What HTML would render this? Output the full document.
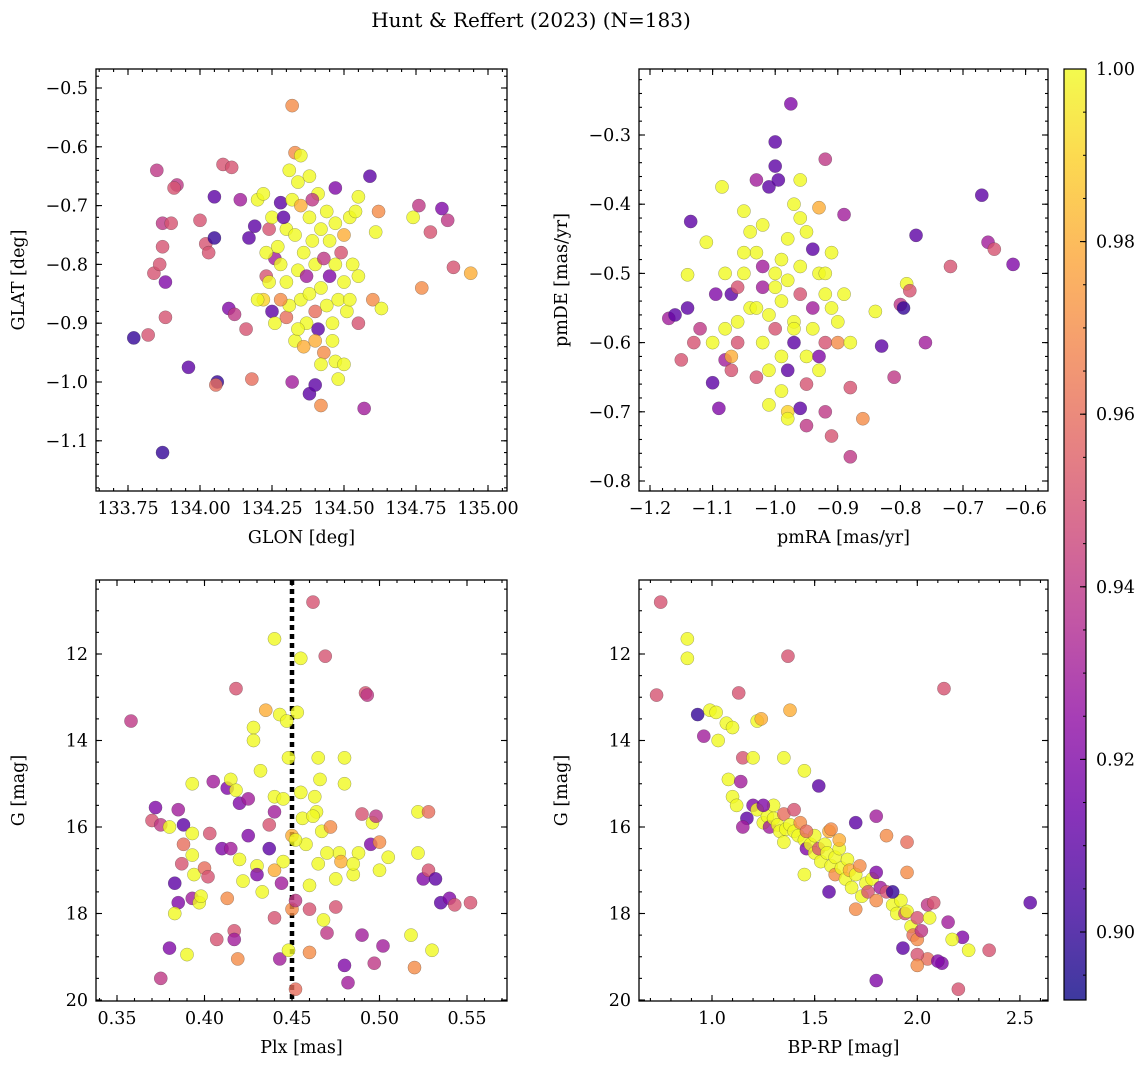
<!DOCTYPE html>
<html><head><meta charset="utf-8">
<style>
html,body{margin:0;padding:0;background:#fff;}
svg{display:block;font-family:"DejaVu Serif","Liberation Serif",serif;}
</style></head>
<body>
<svg id="chart" width="1148" height="1068" viewBox="0 0 1148 1068" xmlns="http://www.w3.org/2000/svg">
<defs>
<linearGradient id="plasma" x1="0" y1="1" x2="0" y2="0">
<stop offset="0" stop-color="#0d0887"/><stop offset="0.1" stop-color="#41049d"/><stop offset="0.2" stop-color="#6a00a8"/><stop offset="0.3" stop-color="#8f0da4"/><stop offset="0.4" stop-color="#b12a90"/><stop offset="0.5" stop-color="#cc4778"/><stop offset="0.6" stop-color="#e16462"/><stop offset="0.7" stop-color="#f2844b"/><stop offset="0.8" stop-color="#fca636"/><stop offset="0.9" stop-color="#fcce25"/><stop offset="1" stop-color="#f0f921"/>
</linearGradient>
</defs>
<text x="531" y="27" font-size="20" text-anchor="middle">Hunt &amp; Reffert (2023) (N=183)</text>
</svg>
<script>
// ---- data: [x, y, membership probability] ----
const glonGlat = [[133.77,-0.925,0.90],[133.82,-0.92,0.95],[133.84,-0.815,0.95],[133.86,-0.8,0.95],[133.87,-0.77,0.95],[133.85,-0.64,0.94],[133.87,-0.73,0.94],[133.88,-0.83,0.92],[133.88,-0.89,0.95],[133.87,-1.12,0.90],[133.9,-0.73,0.95],[133.92,-0.665,0.94],[133.91,-0.67,0.95],[133.96,-0.975,0.91],[134.0,-0.725,0.95],[134.02,-0.765,0.95],[134.03,-0.78,0.95],[134.05,-0.755,0.90],[134.05,-0.685,0.91],[134.06,-1.0,0.90],[134.055,-1.005,0.96],[134.08,-0.63,0.95],[134.1,-0.875,0.92],[134.11,-0.635,0.95],[134.12,-0.885,0.94],[134.14,-0.69,0.93],[134.16,-0.91,0.95],[134.17,-0.755,0.91],[134.18,-0.995,0.96],[134.19,-0.735,0.91],[134.2,-0.69,1.0],[134.22,-0.86,0.99],[134.23,-0.82,0.95],[134.24,-0.74,0.95],[134.25,-0.88,0.91],[134.26,-0.79,0.93],[134.28,-0.695,0.91],[134.32,-0.53,0.97],[134.33,-0.61,0.97],[134.35,-0.615,1.0],[134.34,-0.66,1.0],[134.3,-0.89,0.96],[134.32,-1.0,0.93],[134.38,-1.02,0.91],[134.4,-1.005,0.91],[134.42,-1.04,0.97],[134.47,-0.965,1.0],[134.5,-0.97,1.0],[134.48,-0.995,1.0],[134.55,-0.685,1.0],[134.57,-1.045,0.93],[134.59,-0.65,0.91],[134.6,-0.86,0.97],[134.61,-0.745,1.0],[134.62,-0.71,0.97],[134.63,-0.875,1.0],[134.74,-0.72,1.0],[134.76,-0.7,0.94],[134.77,-0.84,0.97],[134.8,-0.745,0.95],[134.84,-0.705,0.92],[134.86,-0.725,0.94],[134.88,-0.805,0.95],[134.94,-0.815,0.98],
[134.22,-0.68,1],[134.25,-0.72,1],[134.27,-0.77,1],[134.28,-0.8,1],[134.3,-0.74,1],[134.3,-0.83,1],[134.31,-0.87,1],[134.32,-0.69,1],[134.33,-0.75,1],[134.33,-0.93,1],[134.34,-0.81,1],[134.35,-0.86,1],[134.35,-0.7,0.98],[134.36,-0.78,1],[134.37,-0.9,1],[134.37,-0.82,0.93],[134.38,-0.72,1],[134.38,-0.85,1],[134.39,-0.76,1],[134.4,-0.8,1],[134.4,-0.88,0.96],[134.41,-0.68,1],[134.41,-0.91,0.91],[134.42,-0.74,1],[134.42,-0.84,1],[134.43,-0.79,0.94],[134.43,-0.95,0.97],[134.44,-0.71,1],[134.44,-0.87,1],[134.45,-0.76,1],[134.45,-0.82,0.92],[134.46,-0.9,1],[134.47,-0.73,1],[134.47,-0.8,1],[134.48,-0.86,1],[134.49,-0.78,0.95],[134.5,-0.83,1],[134.5,-0.75,0.98],[134.51,-0.88,1],[134.52,-0.72,1],[134.53,-0.8,1],[134.54,-0.71,1],[134.55,-0.82,1],[134.55,-0.9,0.95],[134.38,-0.65,1],[134.39,-0.69,0.94],[134.28,-0.86,0.97],[134.26,-0.9,1],[134.24,-0.83,1],[134.23,-0.78,1],[134.2,-0.86,1],[134.36,-0.94,0.98],[134.46,-0.93,1],[134.42,-0.97,1],[134.34,-0.91,1],[134.31,-0.64,1],[134.47,-0.67,0.92],[134.29,-0.72,0.91],[134.4,-0.93,0.98],[134.52,-0.86,1]];
const pmraPmde = [[-1.17,-0.565,0.93],[-1.16,-0.56,0.91],[-1.15,-0.625,0.95],[-1.14,-0.55,0.91],[-1.135,-0.425,0.91],[-1.13,-0.6,0.95],[-1.14,-0.502,1.0],[-1.12,-0.58,0.94],[-1.11,-0.455,1.0],[-1.1,-0.658,0.91],[-1.095,-0.53,0.92],[-1.09,-0.695,0.92],[-1.085,-0.375,1.0],[-1.08,-0.625,0.93],[-1.07,-0.64,0.95],[-1.06,-0.57,1.0],[-1.05,-0.41,1.0],[-1.03,-0.365,0.93],[-1.02,-0.49,0.93],[-1.01,-0.375,0.91],[-1.0,-0.345,0.91],[-0.995,-0.365,0.91],[-1.0,-0.31,0.91],[-0.975,-0.255,0.92],[-0.98,-0.7,0.99],[-0.98,-0.71,1.0],[-0.96,-0.365,1.0],[-0.94,-0.465,0.91],[-0.93,-0.405,0.98],[-0.92,-0.335,0.94],[-0.92,-0.7,0.94],[-0.91,-0.735,0.95],[-0.89,-0.415,0.93],[-0.88,-0.665,0.95],[-0.88,-0.765,0.94],[-0.86,-0.71,0.97],[-0.84,-0.555,1.0],[-0.83,-0.605,0.91],[-0.81,-0.65,0.94],[-0.8,-0.545,0.94],[-0.795,-0.55,0.90],[-0.79,-0.515,1.0],[-0.785,-0.525,0.95],[-0.775,-0.445,0.91],[-0.76,-0.6,0.93],[-0.72,-0.49,0.95],[-0.67,-0.387,0.91],[-0.66,-0.455,0.93],[-0.65,-0.465,0.95],[-0.62,-0.487,0.92],[-0.96,-0.695,0.91],[-0.95,-0.72,0.94],
[-1.05,-0.5,1],[-1.04,-0.55,1],[-1.03,-0.47,1],[-1.02,-0.6,1],[-1.02,-0.52,0.93],[-1.01,-0.56,1],[-1.01,-0.64,1],[-1.0,-0.5,1],[-1.0,-0.58,0.95],[-0.99,-0.54,1],[-0.99,-0.62,1],[-0.98,-0.45,1],[-0.98,-0.51,1],[-0.97,-0.57,1],[-0.97,-0.6,0.91],[-0.96,-0.49,1],[-0.96,-0.53,0.95],[-0.95,-0.62,1],[-0.95,-0.44,1],[-0.94,-0.55,0.93],[-0.94,-0.58,1],[-0.93,-0.5,1],[-0.93,-0.64,1],[-0.92,-0.53,1],[-0.92,-0.6,0.95],[-0.91,-0.47,1],[-0.9,-0.57,1],[-0.9,-0.6,0.97],[-0.89,-0.53,1],[-0.88,-0.6,1],[-1.06,-0.6,0.95],[-1.07,-0.53,0.91],[-1.03,-0.65,0.95],[-1.04,-0.44,1],[-0.97,-0.4,1],[-0.96,-0.42,1],[-1.08,-0.5,1],[-1.05,-0.47,1],[-1.02,-0.43,1],[-0.99,-0.67,1],[-0.98,-0.64,0.91],[-1.01,-0.69,1],[-0.95,-0.66,0.95],[-1.1,-0.6,1],[-1.08,-0.58,1],[-0.97,-0.58,1],[-0.93,-0.62,0.92],[-0.91,-0.55,1],[-0.92,-0.5,1],[-1.0,-0.52,1],[-1.06,-0.52,0.95],[-1.07,-0.62,0.98],[-0.99,-0.48,1],[-1.03,-0.55,1]];
const plxG = [[0.358,13.55,0.94],[0.372,15.55,0.92],[0.37,15.85,0.95],[0.375,15.95,0.94],[0.38,16.0,1.0],[0.375,19.5,0.94],[0.38,18.8,0.92],[0.383,17.3,0.91],[0.385,17.75,0.92],[0.383,18.0,1.0],[0.385,15.6,0.93],[0.387,16.85,0.95],[0.388,16.4,0.96],[0.388,15.95,0.91],[0.39,18.95,1.0],[0.393,15.0,1.0],[0.393,16.15,1.0],[0.393,16.65,1.0],[0.394,17.1,1.0],[0.393,17.65,0.93],[0.397,17.75,1.0],[0.398,17.6,1.0],[0.4,16.95,0.96],[0.402,17.15,0.95],[0.403,16.15,0.95],[0.405,14.95,0.93],[0.407,18.6,0.95],[0.41,16.5,0.92],[0.413,15.1,0.92],[0.413,17.65,0.97],[0.415,16.5,0.93],[0.415,14.9,1.0],[0.417,18.4,0.95],[0.417,18.6,0.93],[0.418,12.8,0.95],[0.418,15.15,1.0],[0.419,19.05,0.97],[0.42,15.45,0.92],[0.42,16.75,1.0],[0.422,17.25,1.0],[0.425,15.35,0.93],[0.425,16.2,0.92],[0.428,13.7,1.0],[0.428,14.0,1.0],[0.43,16.9,1.0],[0.43,17.1,0.92],[0.432,14.7,1.0],[0.433,17.5,1.0],[0.435,13.3,0.98],[0.437,15.95,0.95],[0.437,16.5,0.91],[0.44,15.3,1.0],[0.44,15.65,0.93],[0.44,18.1,0.95],[0.44,11.65,1.0],[0.443,13.4,1.0],[0.443,19.05,0.93],[0.445,15.35,1.0],[0.447,13.55,1.0],[0.448,14.4,1.0],[0.448,18.85,1.0],[0.45,16.2,0.98],[0.45,17.9,0.97],[0.452,17.7,0.94],[0.452,19.75,0.96],[0.453,13.35,1.0],[0.455,12.1,1.0],[0.456,15.8,1.0],[0.458,16.4,1.0],[0.46,17.35,1.0],[0.46,17.9,0.95],[0.46,18.9,0.97],[0.462,10.8,0.95],[0.463,15.3,1.0],[0.464,15.65,1.0],[0.465,14.4,1.0],[0.466,14.9,1.0],[0.467,16.1,1.0],[0.468,18.15,1.0],[0.469,12.05,0.95],[0.47,18.45,0.94],[0.472,16.0,0.97],[0.475,17.85,0.95],[0.477,16.6,1.0],[0.478,16.8,0.98],[0.48,15.0,1.0],[0.48,14.4,1.0],[0.48,19.2,0.92],[0.482,19.6,0.93],[0.485,17.1,1.0],[0.488,16.6,1.0],[0.49,15.7,0.95],[0.49,18.5,0.93],[0.492,12.9,0.95],[0.493,12.95,0.94],[0.495,16.4,0.92],[0.496,15.9,1.0],[0.497,19.15,0.94],[0.498,15.75,0.94],[0.5,17.0,1.0],[0.5,16.35,0.97],[0.502,18.75,0.93],[0.505,16.7,1.0],[0.518,18.5,1.0],[0.52,19.25,0.97],[0.522,15.65,1.0],[0.522,16.6,1.0],[0.525,17.2,0.92],[0.528,15.65,0.96],[0.528,17.0,0.95],[0.53,18.85,1.0],[0.532,17.2,0.91],[0.535,17.75,0.91],[0.54,17.65,0.92],[0.543,17.8,0.95],[0.552,17.75,0.95],[0.462,15.75,1.0],[0.465,16.85,1.0],[0.47,16.6,1.0],[0.475,17.2,1.0],[0.485,16.85,1.0],[0.445,16.8,1.0],[0.452,16.3,1.0],[0.455,15.2,1.0],[0.44,17.0,0.98],[0.444,17.3,0.93]];
const bprpG = [[0.73,12.95,0.95],[0.75,10.8,0.95],[0.88,11.65,1.0],[0.88,12.1,1.0],[0.93,13.4,0.90],[0.96,13.9,0.93],[0.99,13.3,1.0],[1.02,13.35,1.0],[1.03,14.0,1.0],[1.07,13.6,1.0],[1.08,14.9,1.0],[1.1,13.7,1.0],[1.1,15.3,1.0],[1.13,12.9,0.95],[1.14,14.95,0.93],[1.15,14.4,0.95],[1.17,15.8,0.91],[1.2,14.4,1.0],[1.2,15.5,0.92],[1.22,13.55,1.0],[1.24,13.5,0.98],[1.37,12.05,0.95],[1.38,13.3,0.98],[1.35,14.4,1.0],[1.45,14.7,1.0],[1.45,17.1,1.0],[1.52,15.05,0.91],[1.57,17.5,0.91],[1.7,15.9,0.91],[1.8,15.75,0.93],[1.8,19.55,0.92],[1.85,16.2,0.97],[1.95,16.35,0.96],[1.95,17.05,0.97],[2.13,12.8,0.95],[2.2,19.75,0.95],[2.35,18.85,0.95],[2.55,17.75,0.91],[2.25,18.85,1.0],[2.22,18.55,0.92],[2.15,18.2,0.93],[2.17,18.6,1.0],[2.12,19.15,0.92],[2.05,19.05,0.96],[2.1,19.1,0.92],[1.93,18.8,0.91],[2.0,18.95,0.95],[2.0,19.2,0.97],
[1.22,15.6,1],[1.25,15.9,1],[1.27,15.75,1],[1.28,16.0,0.93],[1.3,15.8,1],[1.32,15.95,1],[1.33,16.1,1],[1.35,15.7,0.96],[1.36,16.05,1],[1.38,15.95,1],[1.4,16.1,1],[1.42,16.2,1],[1.43,15.9,0.97],[1.45,16.3,1],[1.46,16.5,0.92],[1.48,16.4,1],[1.5,16.6,1],[1.5,16.2,1],[1.52,16.5,0.95],[1.53,16.8,1],[1.55,16.4,1],[1.56,16.6,1],[1.57,16.1,0.98],[1.58,16.9,1],[1.6,16.7,1],[1.6,17.1,0.97],[1.62,16.5,1],[1.63,16.95,1],[1.65,17.2,1],[1.66,16.75,1],[1.67,17.0,0.98],[1.68,17.4,1],[1.7,17.9,0.97],[1.7,17.1,1],[1.72,16.9,0.97],[1.73,17.6,1],[1.75,17.3,1],[1.76,17.5,0.95],[1.78,17.2,1],[1.8,17.7,0.97],[1.8,17.05,0.92],[1.82,17.4,0.93],[1.85,17.5,0.95],[1.88,17.8,1],[1.9,18.0,1],[1.92,17.7,1],[1.94,18.0,0.95],[1.95,17.95,1],[1.97,18.3,1],[1.98,18.5,0.96],[2.0,18.1,0.95],[2.0,18.6,0.97],[2.02,18.4,0.94],[2.05,17.8,0.94],[2.06,18.1,1],[2.08,17.75,0.95],[1.58,16.05,0.97],[1.46,16.1,0.96],[1.62,16.3,0.98],[1.3,15.5,1],[1.25,15.5,0.92],[1.4,15.6,0.95],[1.12,15.5,1],[1.15,16.0,0.93],[1.35,16.35,1],[1.88,17.5,0.9]];
const p1XTicks = [133.75,134.00,134.25,134.50,134.75,135.00];
const p1YTicks = [-0.5,-0.6,-0.7,-0.8,-0.9,-1.0,-1.1];
const p2XTicks = [-1.2,-1.1,-1.0,-0.9,-0.8,-0.7,-0.6];
const p2YTicks = [-0.3,-0.4,-0.5,-0.6,-0.7,-0.8];
const p3XTicks = [0.35,0.40,0.45,0.50,0.55];
const gTicks = [12,14,16,18,20];
const p4XTicks = [1.0,1.5,2.0,2.5];
const cbTicks = [0.90,0.92,0.94,0.96,0.98,1.00];
const plxRef = 0.45;

const NS = "http://www.w3.org/2000/svg";
const svg = document.getElementById('chart');
const FS = 17.5;
function el(tag, attrs, parent){const e=document.createElementNS(NS,tag);for(const k in attrs)e.setAttribute(k,attrs[k]);(parent||svg).appendChild(e);return e;}
const stops=[[13,8,135],[65,4,157],[106,0,168],[143,13,164],[177,42,144],[204,71,120],[225,100,98],[242,132,75],[252,166,54],[252,206,37],[240,249,33]];
const vmin=0.8921, vmax=1.0;
function cmap(p){let t=(p-vmin)/(vmax-vmin);t=Math.max(0,Math.min(1,t))*10;const i=Math.min(9,Math.floor(t)),f=t-i;const a=stops[i],b=stops[i+1];return `rgb(${a.map((v,k)=>Math.round(v+(b[k]-v)*f)).join(',')})`;}
function fmt(v,d){return (v<0?'\u2212':'')+Math.abs(v).toFixed(d);}

function panel(cfg){
  const {name,L,R,T,B,xs,ys,xTicks,yTicks,xMinor,yMinor,xDec,yDec,data,xLabel,yLabel,xInv,yInv}=cfg;
  const g=el('g',{});
  
  
  const clipId=name+'-clip';
  const cp=el('clipPath',{id:clipId},g);el('rect',{x:L,y:T,width:R-L,height:B-T},cp);
  const marks=el('g',{'clip-path':`url(#${clipId})`},g);
  
  
  if(cfg.extra) cfg.extra(marks);
  data.forEach(d=>{
    const c=el('circle',{cx:xs(d[0]),cy:ys(d[1]),r:6.6,fill:cmap(d[2]),'fill-opacity':0.8,stroke:'#333','stroke-opacity':0.45,'stroke-width':0.5},marks);
    
    
  });
  const ax=el('g',{stroke:'#000','stroke-width':1.1},g);
  const [x0,x1]=[xInv(L),xInv(R)].sort((a,b)=>a-b), [y0,y1]=[yInv(T),yInv(B)].sort((a,b)=>a-b);
  for(let v=Math.ceil(x0/xMinor)*xMinor;v<=x1;v+=xMinor){const px=xs(v);el('line',{x1:px,x2:px,y1:B,y2:B-3},ax);el('line',{x1:px,x2:px,y1:T,y2:T+3},ax);}
  for(let v=Math.ceil(y0/yMinor)*yMinor;v<=y1;v+=yMinor){const py=ys(v);el('line',{x1:L,x2:L+3,y1:py,y2:py},ax);el('line',{x1:R,x2:R-3,y1:py,y2:py},ax);}
  xTicks.forEach(v=>{const px=xs(v);el('line',{x1:px,x2:px,y1:B,y2:B-6},ax);el('line',{x1:px,x2:px,y1:T,y2:T+6},ax);
    const t=el('text',{x:px,y:B+23,'font-size':FS,'text-anchor':'middle'},g);t.textContent=fmt(v,xDec);
    
    });
  yTicks.forEach(v=>{const py=ys(v);el('line',{x1:L,x2:L+6,y1:py,y2:py},ax);el('line',{x1:R,x2:R-6,y1:py,y2:py},ax);
    const t=el('text',{x:L-8,y:py+6,'font-size':FS,'text-anchor':'end'},g);t.textContent=fmt(v,yDec);
    
    });
  el('rect',{x:L,y:T,width:R-L,height:B-T,fill:'none',stroke:'#000','stroke-width':1.3},g);
  const xl=el('text',{x:(L+R)/2,y:B+52,'font-size':FS,'text-anchor':'middle'},g);xl.textContent=xLabel;
  
  
  const yl=el('text',{x:0,y:0,'font-size':FS,'text-anchor':'middle',transform:`translate(${L-72},${(T+B)/2}) rotate(-90)`},g);yl.textContent=yLabel;
  
  
}
const gy=v=>654+(v-12)*43.25, gyi=p=>12+(p-654)/43.25;
panel({name:'glon-glat-panel',L:96,R:507,T:69,B:491,xs:v=>128+(v-133.75)*288,xInv:p=>133.75+(p-128)/288,ys:v=>88+(-0.5-v)*588,yInv:p=>-0.5-(p-88)/588,
  xTicks:p1XTicks,yTicks:p1YTicks,xMinor:0.05,yMinor:0.02,xDec:2,yDec:1,data:glonGlat,xLabel:'GLON [deg]',yLabel:'GLAT [deg]'});
panel({name:'pm-panel',L:639,R:1048,T:69,B:491,xs:v=>650+(v+1.2)*626,xInv:p=>-1.2+(p-650)/626,ys:v=>135+(-0.3-v)*692,yInv:p=>-0.3-(p-135)/692,
  xTicks:p2XTicks,yTicks:p2YTicks,xMinor:0.02,yMinor:0.02,xDec:1,yDec:1,data:pmraPmde,xLabel:'pmRA [mas/yr]',yLabel:'pmDE [mas/yr]'});
panel({name:'plx-g-panel',L:96,R:507,T:580,B:1001,xs:v=>117+(v-0.35)*1750,xInv:p=>0.35+(p-117)/1750,ys:gy,yInv:gyi,
  xTicks:p3XTicks,yTicks:gTicks,xMinor:0.01,yMinor:0.5,xDec:2,yDec:0,data:plxG,xLabel:'Plx [mas]',yLabel:'G [mag]',
  extra:(m)=>{const px=117+(plxRef-0.35)*1750;const l=el('line',{x1:px,x2:px,y1:580,y2:1001,stroke:'#000','stroke-width':4.5,'stroke-dasharray':'5 4'},m);
    
    }});
panel({name:'cmd-panel',L:639,R:1048,T:580,B:1001,xs:v=>712+(v-1.0)*205.3,xInv:p=>1.0+(p-712)/205.3,ys:gy,yInv:gyi,
  xTicks:p4XTicks,yTicks:gTicks,xMinor:0.1,yMinor:0.5,xDec:1,yDec:0,data:bprpG,xLabel:'BP-RP [mag]',yLabel:'G [mag]'});
const cb=el('g',{});


const cL=1064,cR=1086,cT=69,cB=1000;const cy=v=>69+(1.0-v)*8630;
el('rect',{x:cL,y:cT,width:cR-cL,height:cB-cT,fill:'url(#plasma)','fill-opacity':0.8},cb);
for(let v=0.895;v<1.0;v+=0.005){const py=cy(v);el('line',{x1:cR,x2:cR-3,y1:py,y2:py,stroke:'#000','stroke-width':1},cb);}
cbTicks.forEach(v=>{const py=cy(v);el('line',{x1:cR,x2:cR-6,y1:py,y2:py,stroke:'#000','stroke-width':1.1},cb);
  const t=el('text',{x:cR+10,y:py+6,'font-size':FS},cb);t.textContent=v.toFixed(2);
  
  });
el('rect',{x:cL,y:cT,width:cR-cL,height:cB-cT,fill:'none',stroke:'#000','stroke-width':1.2},cb);
</script>
</body></html>
